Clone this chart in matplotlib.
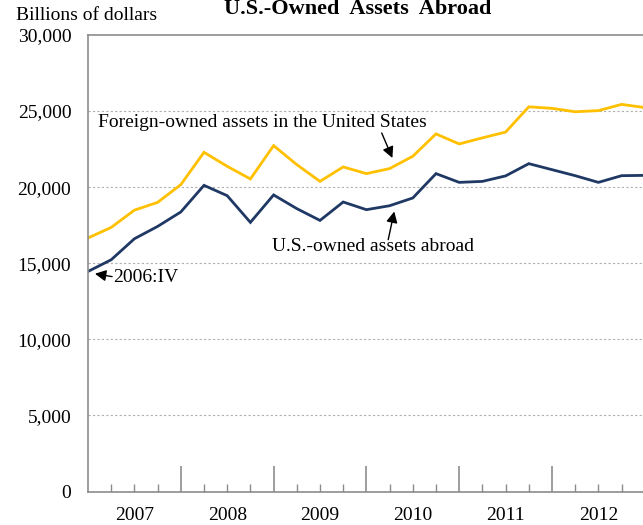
import matplotlib.pyplot as plt
import numpy as np

plt.rcParams['font.family'] = ['Liberation Serif', 'DejaVu Serif']

# quarterly, 2006:IV .. 2012:IV (billions of dollars)
quarters = ["2006:IV",
            "2007:I", "2007:II", "2007:III", "2007:IV",
            "2008:I", "2008:II", "2008:III", "2008:IV",
            "2009:I", "2009:II", "2009:III", "2009:IV",
            "2010:I", "2010:II", "2010:III", "2010:IV",
            "2011:I", "2011:II", "2011:III", "2011:IV",
            "2012:I", "2012:II", "2012:III", "2012:IV"]
foreign_owned = [16660, 17355, 18490, 19000, 20165,
                 22290, 21370, 20540, 22730,
                 21480, 20380, 21330, 20890,
                 21220, 22030, 23500, 22840,
                 23240, 23620, 25280, 25180,
                 24955, 25030, 25440, 25230]
us_owned = [14460, 15230, 16610, 17420, 18370,
            20120, 19440, 17685, 19490,
            18590, 17815, 19025, 18520,
            18780, 19290, 20890, 20315,
            20380, 20740, 21545, 21150,
            20755, 20315, 20755, 20775]
years = ["2007", "2008", "2009", "2010", "2011", "2012"]
y_ticks = [0, 5000, 10000, 15000, 20000, 25000, 30000]

YELLOW = "#FFC000"
NAVY = "#1F3864"
GREY = "#8c8c8c"

x = np.arange(len(quarters))

fig = plt.figure(figsize=(6.43, 5.25), dpi=100)
ax = fig.add_axes([88 / 643, 33.5 / 525, (644.8 - 88) / 643, 456.5 / 525])

ax.plot(x, foreign_owned, color=YELLOW, lw=2.0, solid_joinstyle="miter")
ax.plot(x, us_owned, color=NAVY, lw=2.0, solid_joinstyle="miter")

ax.set_xlim(0, len(quarters) - 1)
ax.set_ylim(0, 30000)

ax.set_yticks(y_ticks)
ax.set_yticklabels([f"{v:,}" for v in y_ticks], fontsize=14)
ax.tick_params(axis="y", length=0, pad=12)
for v in y_ticks[1:-1]:
    ax.axhline(v, color="#b0b0b0", lw=0.8, ls=(0, (2, 2)), zorder=0)

# quarter ticks (minor) and year boundaries (major)
ax.set_xticks([i for i in x[1:] if i % 4 != 0], minor=True)
ax.set_xticks([i for i in x[1:] if i % 4 == 0])
ax.set_xticklabels([])
ax.tick_params(axis="x", which="minor", direction="in", length=6, width=1, color=GREY)
ax.tick_params(axis="x", which="major", direction="in", length=19, width=1.2, color=GREY)
for k, yr in enumerate(years):
    ax.text(4 * k + 2, -1550, yr, ha="center", va="center", fontsize=14)

for side in ["left", "bottom", "top"]:
    ax.spines[side].set_color(GREY)
    ax.spines[side].set_linewidth(1.2)
ax.spines["right"].set_visible(False)

arrow = dict(arrowstyle="-|>,head_length=0.55,head_width=0.28", color="black",
             lw=1.0, mutation_scale=12, shrinkA=0, shrinkB=0)
ax.text(0.44, 24225, "Foreign-owned assets in the United States",
        ha="left", va="center", fontsize=14)
ax.annotate("", xy=(13.12, 21920), xytext=(12.66, 23560), arrowprops=arrow)
ax.text(7.92, 16105, "U.S.-owned assets abroad", ha="left", va="center", fontsize=14)
ax.annotate("", xy=(13.20, 18400), xytext=(12.94, 16550), arrowprops=arrow)
ax.text(1.10, 14045, "2006:IV", ha="left", va="center", fontsize=14)
ax.annotate("", xy=(0.30, 14310), xytext=(1.04, 14120), arrowprops=arrow)

fig.text(16 / 643, 1 - 16 / 525, "Billions of dollars", ha="left", va="center", fontsize=14)
fig.text(358 / 643, 1 - 9 / 525, "U.S.-Owned  Assets  Abroad", ha="center", va="center",
         fontsize=16, fontweight="bold")

fig.savefig("out.png", dpi=100)
